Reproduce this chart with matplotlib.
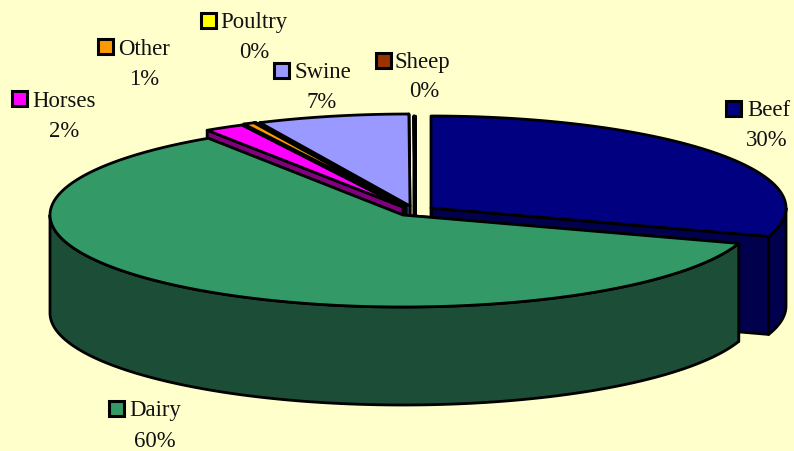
# 3D style pie of cattle/livestock shares

import numpy as np
import matplotlib
matplotlib.use('Agg')
import matplotlib.pyplot as plt

plt.rcParams['font.family'] = ['Liberation Serif', 'DejaVu Serif']

# Data, clockwise from 12 o'clock
names = ['Beef', 'Dairy', 'Horses', 'Other', 'Poultry', 'Swine', 'Sheep']
shares = [30.0, 60.7, 1.8, 0.5, 0.05, 6.9, 0.05]
pct_labels = ['30%', '60%', '2%', '1%', '0%', '7%', '0%']

# Colours
top_colors = ['#000080', '#339966', '#FF00FF', '#FF9900', '#FFFF00', '#9999FF', '#993300']
side_colors = ['#00004d', '#1c4d36', '#800080', '#804c00', '#808000', '#4c4c80', '#4c1900']
bg = '#FFFFCC'

# Pie geometry in pixels
radii_x = [355, 353, 355, 355, 355, 355, 355]
ry = 92
depth = 98
line_w = 2.0
centers = [(431, 208), (403, 215), (403, 207), (405, 206), (406, 206), (410, 206), (415, 208)]
draw_order = [6, 5, 4, 3, 2, 0, 1]

# Legend keys: swatch box and text anchors
key_boxes = [(726, 101), (109, 401), (12, 91), (98, 39), (201, 13), (274, 63), (376, 53)]
key_size = 15
name_x = [747, 129, 32, 118, 220, 294, 395]
name_y = [116, 416, 107, 55, 28, 78, 68]
pct_x = [767, 155, 64, 144, 254, 322, 424]
pct_y = [146, 447, 137, 85, 58, 108, 97]


def rim(cx, cy, rx, t0, t1, drop=0):
    t = np.radians(np.linspace(t0, t1, 200))
    return cx + rx * np.cos(t), cy - ry * np.sin(t) + drop


fig = plt.figure(figsize=(7.94, 4.51), dpi=100, facecolor=bg)
ax = fig.add_axes([0, 0, 1, 1])
ax.set_xlim(0, 794)
ax.set_ylim(451, 0)
ax.axis('off')

# Slice angles from the shares
ends = 90 - np.cumsum(shares) * 3.6
starts = np.concatenate([[90], ends[:-1]])


def outline(xs, ys, fill):
    ax.fill(xs, ys, facecolor=fill, edgecolor='black', linewidth=line_w, joinstyle='round')


for i in draw_order:
    cx, cy = centers[i]
    rx = radii_x[i]
    t0, t1 = starts[i], ends[i]

    # flat cut faces, the leading edge last so it stays on top
    for t in (t1, t0):
        ex, ey = rim(cx, cy, rx, t, t)
        outline([cx, ex[0], ex[0], cx], [cy, ey[0], ey[0] + depth, cy + depth], side_colors[i])

    # outer wall, only the part facing the viewer
    lo = max(t1, -180)
    hi = min(t0, 0)
    if lo < hi:
        ux, uy = rim(cx, cy, rx, lo, hi)
        dx, dy = rim(cx, cy, rx, hi, lo, depth)
        outline(np.r_[ux, dx], np.r_[uy, dy], side_colors[i])

    # top face
    tx, ty = rim(cx, cy, rx, t0, t1)
    outline(np.r_[cx, tx], np.r_[cy, ty], top_colors[i])

# Legend style labels
for i in range(len(names)):
    bx, by = key_boxes[i]
    ax.fill([bx, bx + key_size, bx + key_size, bx], [by, by, by + key_size, by + key_size],
            facecolor=top_colors[i], edgecolor='black', linewidth=2.2)
    ax.text(name_x[i], name_y[i], names[i], fontsize=16.4, color='#111111', ha='left', va='baseline')
    ax.text(pct_x[i], pct_y[i], pct_labels[i], fontsize=16.4, color='#111111', ha='center', va='baseline')

fig.savefig('out.png', dpi=100, facecolor=bg)
